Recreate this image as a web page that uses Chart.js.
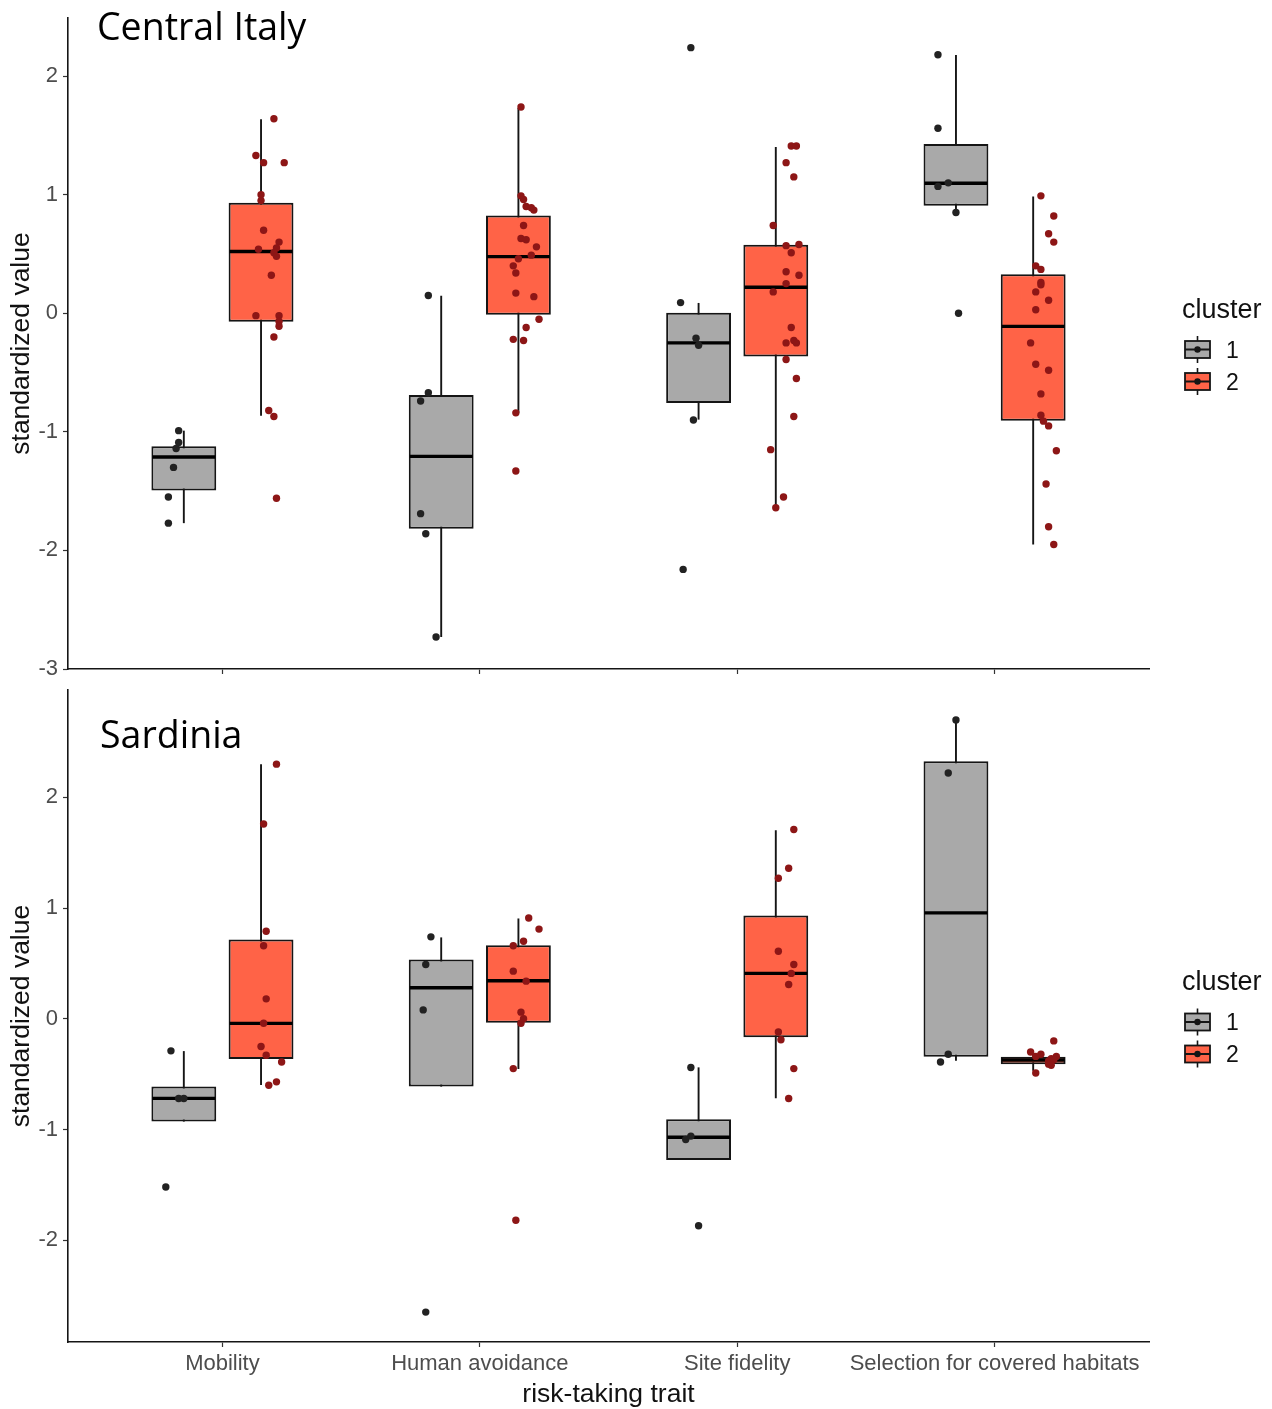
<!DOCTYPE html>
<html>
<head>
<meta charset="utf-8">
<script src="https://cdn.jsdelivr.net/npm/chart.js@4.4.1/dist/chart.umd.min.js"></script>
<style>
  html, body { margin: 0; padding: 0; background: #fff; }
  #page { position: relative; width: 1272px; height: 1409px; overflow: hidden; }
  canvas { position: absolute; left: 0; }
  #italy { top: 0; }
  #sardinia { top: 660px; }
</style>
</head>
<body>
<div id="page">
  <canvas id="italy" width="1272" height="700"></canvas>
  <canvas id="sardinia" width="1272" height="749"></canvas>
</div>
<script>
// ================= DATA =================
const traits = ["Mobility", "Human avoidance", "Site fidelity", "Selection for covered habitats"];
const clusters = ["1", "2"];

// box summaries per trait: [lower whisker, Q1, median, Q3, upper whisker]
const italyBox1 = [
  [-1.77, -1.495, -1.212, -1.122, -0.99],
  [-2.73, -1.818, -1.207, -0.690, 0.147],
  [-0.897, -0.756, -0.250, 0.005, 0.087],
  [0.85, 0.906, 1.097, 1.428, 2.178]
];
const italyBox2 = [
  [-0.864, -0.072, 0.521, 0.933, 1.636],
  [-0.84, -0.013, 0.478, 0.824, 1.732],
  [-1.644, -0.365, 0.219, 0.577, 1.402],
  [-1.95, -0.906, -0.111, 0.330, 0.984]
];
const sardiniaBox1 = [
  [-0.929, -0.929, -0.719, -0.613, -0.292],
  [-0.613, -0.613, 0.280, 0.536, 0.735],
  [-1.275, -1.275, -1.071, -0.908, -0.439],
  [-0.38, -0.343, 0.957, 2.326, 2.702]
];
const sardiniaBox2 = [
  [-0.598, -0.364, -0.042, 0.716, 2.299],
  [-0.454, -0.036, 0.343, 0.665, 0.906],
  [-0.719, -0.168, 0.410, 0.933, 1.704],
  [-0.47, -0.412, -0.373, -0.343, -0.304]
];

// individuals: [trait, jitter, standardized value]
const italyPts1 = [
  [1,-0.02,-0.99],[1,-0.02,-1.09],[1,-0.03,-1.14],[1,-0.04,-1.30],[1,-0.06,-1.55],[1,-0.06,-1.77],
  [2,-0.05,0.15],[2,-0.05,-0.67],[2,-0.08,-0.74],[2,-0.08,-1.69],[2,-0.06,-1.86],[2,-0.02,-2.73],
  [3,-0.03,2.24],[3,-0.07,0.09],[3,-0.01,-0.21],[3,0.00,-0.27],[3,-0.02,-0.90],[3,-0.06,-2.16],
  [4,-0.07,2.18],[4,-0.07,1.56],[4,-0.07,1.07],[4,-0.03,1.10],[4,0.00,0.85],[4,0.01,0.00]
];
const italyPts2 = [
  [1,0.05,1.64],[1,-0.02,1.33],[1,0.01,1.27],[1,0.09,1.27],[1,0.00,1.00],[1,0.00,0.95],[1,0.01,0.70],
  [1,-0.01,0.54],[1,0.07,0.60],[1,0.06,0.55],[1,0.05,0.51],[1,0.06,0.48],[1,0.04,0.32],[1,-0.02,-0.02],
  [1,0.07,-0.02],[1,0.07,-0.07],[1,0.07,-0.11],[1,0.05,-0.20],[1,0.03,-0.82],[1,0.05,-0.87],[1,0.06,-1.56],
  [2,0.01,1.74],[2,0.01,0.99],[2,0.02,0.96],[2,0.03,0.90],[2,0.05,0.89],[2,0.06,0.87],[2,0.02,0.74],
  [2,0.01,0.63],[2,0.03,0.62],[2,0.07,0.56],[2,0.05,0.49],[2,0.00,0.46],[2,-0.02,0.40],[2,-0.01,0.34],
  [2,-0.01,0.17],[2,0.06,0.14],[2,0.08,-0.05],[2,0.03,-0.12],[2,-0.02,-0.22],[2,0.02,-0.23],[2,-0.01,-0.84],[2,-0.01,-1.33],
  [3,0.06,1.41],[3,0.08,1.41],[3,0.04,1.27],[3,0.07,1.15],[3,-0.01,0.74],[3,0.04,0.57],[3,0.09,0.58],
  [3,0.06,0.51],[3,0.04,0.35],[3,0.09,0.32],[3,0.04,0.25],[3,-0.01,0.18],[3,0.06,-0.12],[3,0.04,-0.25],
  [3,0.07,-0.23],[3,0.08,-0.25],[3,0.04,-0.39],[3,0.08,-0.55],[3,0.07,-0.87],[3,-0.02,-1.15],[3,0.03,-1.55],[3,0.00,-1.64],
  [4,0.03,0.99],[4,0.08,0.82],[4,0.06,0.67],[4,0.08,0.60],[4,0.01,0.40],[4,0.03,0.37],[4,0.03,0.26],
  [4,0.03,0.24],[4,0.01,0.18],[4,0.06,0.11],[4,0.01,0.03],[4,-0.01,-0.25],[4,0.01,-0.43],[4,0.06,-0.48],
  [4,0.03,-0.68],[4,0.03,-0.86],[4,0.04,-0.91],[4,0.06,-0.95],[4,0.09,-1.16],[4,0.05,-1.44],[4,0.06,-1.80],[4,0.08,-1.95]
];
const sardiniaPts1 = [
  [1,-0.05,-0.29],[1,-0.02,-0.72],[1,0.00,-0.72],[1,-0.07,-1.52],
  [2,-0.04,0.74],[2,-0.06,0.49],[2,-0.07,0.08],[2,-0.06,-2.65],
  [3,-0.03,-0.44],[3,-0.05,-1.09],[3,-0.03,-1.06],[3,0.00,-1.87],
  [4,0.00,2.70],[4,-0.03,2.22],[4,-0.03,-0.32],[4,-0.06,-0.39]
];
const sardiniaPts2 = [
  [1,0.06,2.30],[1,0.01,1.76],[1,0.02,0.79],[1,0.01,0.66],[1,0.02,0.18],[1,0.01,-0.04],
  [1,0.00,-0.25],[1,0.02,-0.33],[1,0.08,-0.39],[1,0.03,-0.60],[1,0.06,-0.57],
  [2,0.04,0.91],[2,0.08,0.81],[2,0.02,0.70],[2,-0.02,0.66],[2,-0.02,0.43],[2,0.03,0.34],
  [2,0.01,0.06],[2,0.02,0.00],[2,0.01,-0.04],[2,-0.02,-0.45],[2,-0.01,-1.82],
  [3,0.07,1.71],[3,0.05,1.36],[3,0.01,1.27],[3,0.01,0.61],[3,0.07,0.49],[3,0.06,0.41],
  [3,0.05,0.31],[3,0.01,-0.12],[3,0.02,-0.19],[3,0.07,-0.45],[3,0.05,-0.72],
  [4,0.08,-0.20],[4,-0.01,-0.30],[4,0.03,-0.32],[4,0.01,-0.34],[4,0.09,-0.34],[4,0.07,-0.36],
  [4,0.08,-0.37],[4,0.06,-0.38],[4,0.07,-0.42],[4,0.06,-0.41],[4,0.01,-0.49]
];

// ================= STYLE =================
const DODGE = 0.6;        // share of a category used by the pair of boxes
const BOX_SHARE = 0.84;   // box width inside its half
const fills = ["#a9a9a9", "#ff6347"];
const dots = ["#222222", "#8d1616"];
const ink = "#151515";
const SANS = "'Liberation Sans', Arial, sans-serif";

// ================= HELPERS =================
function panelData(box1, box2, pts1, pts2){
    const boxes = [box1, box2], pts = [pts1, pts2];
    const scatter = pts.map((p, k) => ({
        type: "scatter", order: 0, label: clusters[k],
        data: p.map(([t, j, v]) => ({x: t + (k ? 1 : -1) * DODGE / 4 + j, y: v})),
        pointRadius: 3.7, pointHoverRadius: 3.7, pointBorderWidth: 0,
        pointBackgroundColor: dots[k], backgroundColor: dots[k]
    }));
    const bars = boxes.map((b, k) => ({
        type: "bar", order: 1, label: clusters[k], stats: b,
        data: b.map((s, i) => ({x: i + 1, y: [s[1], s[3]]})),
        backgroundColor: fills[k], borderColor: ink, borderWidth: 2, borderSkipped: false,
        categoryPercentage: DODGE, barPercentage: BOX_SHARE
    }));
    return {datasets: [...scatter, ...bars]};
}

// whiskers under the boxes, medians over the fill but under the points
const boxParts = {
    id: "boxParts",
    beforeDatasetsDraw(chart){
        const y = chart.scales.y, ctx = chart.ctx;
        ctx.save();
        ctx.strokeStyle = ink; ctx.lineWidth = 1.9;
        chart.data.datasets.forEach((ds, d) => {
            if(!ds.stats) return;
            chart.getDatasetMeta(d).data.forEach((bar, i) => {
                const s = ds.stats[i];
                ctx.beginPath();
                ctx.moveTo(bar.x, y.getPixelForValue(s[0]));
                ctx.lineTo(bar.x, y.getPixelForValue(s[4]));
                ctx.stroke();
            });
        });
        ctx.restore();
    },
    afterDatasetDraw(chart, args){
        const ds = chart.data.datasets[args.index];
        if(!ds.stats) return;
        const y = chart.scales.y, ctx = chart.ctx;
        ctx.save();
        ctx.strokeStyle = "#000"; ctx.lineWidth = 3.4;
        args.meta.data.forEach((bar, i) => {
            const ym = y.getPixelForValue(ds.stats[i][2]);
            ctx.beginPath();
            ctx.moveTo(bar.x - bar.width / 2 + 1, ym);
            ctx.lineTo(bar.x + bar.width / 2 - 1, ym);
            ctx.stroke();
        });
        ctx.restore();
    }
};

// "cluster" key to the right of the plot, centred on it
function drawKeyGlyph(ctx, cx, cy, fill){
    ctx.strokeStyle = ink; ctx.lineWidth = 1.6;
    ctx.beginPath(); ctx.moveTo(cx, cy - 13.5); ctx.lineTo(cx, cy + 13.5); ctx.stroke();
    ctx.fillStyle = fill;
    ctx.fillRect(cx - 12.5, cy - 8.5, 25, 17);
    ctx.lineWidth = 1.8;
    ctx.strokeRect(cx - 12.5, cy - 8.5, 25, 17);
    ctx.lineWidth = 2;
    ctx.beginPath(); ctx.moveTo(cx - 12.5, cy); ctx.lineTo(cx + 12.5, cy); ctx.stroke();
    ctx.fillStyle = ink;
    ctx.beginPath(); ctx.arc(cx, cy, 3.2, 0, Math.PI * 2); ctx.fill();
}
const clusterKey = {
    id: "clusterKey",
    afterDraw(chart){
        const {ctx, chartArea: a} = chart;
        const cy = (a.top + a.bottom) / 2;
        ctx.save();
        ctx.fillStyle = "#111";
        ctx.font = `27px ${SANS}`;
        ctx.textBaseline = "alphabetic";
        ctx.fillText("cluster", a.right + 33, cy - 26);
        clusters.forEach((c, k) => {
            const ky = cy + 6 + k * 32;
            drawKeyGlyph(ctx, a.right + 48.5, ky, fills[k]);
            ctx.fillStyle = "#111";
            ctx.font = `23px ${SANS}`;
            ctx.textBaseline = "middle";
            ctx.fillText(c, a.right + 77, ky + 2);
        });
        ctx.restore();
    }
};

// region name in the top-left corner of each panel
const panelHeading = {
    id: "panelHeading",
    afterDraw(chart, args, opts){
        const {ctx, chartArea: a} = chart;
        ctx.save();
        ctx.fillStyle = "#000";
        ctx.font = "37.5px 'Open Sans', sans-serif";
        ctx.textBaseline = "alphabetic";
        ctx.fillText(opts.text, a.left + opts.dx, a.top + opts.dy);
        ctx.restore();
    }
};

function makePanel(id, data, cfg){
    return new Chart(document.getElementById(id), {
        type: "bar",
        data,
        plugins: [boxParts, clusterKey, panelHeading],
        options: {
            responsive: false, animation: false, events: [],
            layout: {padding: {top: cfg.padTop, right: 123, left: 0, bottom: 0}},
            plugins: {
                legend: {display: false}, tooltip: {enabled: false},
                panelHeading: {text: cfg.heading, dx: cfg.headDx, dy: cfg.headDy}
            },
            scales: {
                x: {
                    type: "linear", min: 0.4, max: 4.6, offset: false,
                    afterFit: s => { s.height = cfg.xHeight; },
                    border: {display: true, color: ink, width: 1.6},
                    grid: {display: true, offset: false, drawOnChartArea: false, drawTicks: true, tickLength: 5, tickColor: "#333", tickWidth: 1.2},
                    ticks: {
                        display: cfg.xLabels, stepSize: 1, includeBounds: false, autoSkip: false, maxRotation: 0, padding: 4,
                        color: "#4d4d4d", font: {family: SANS, size: 22},
                        callback: v => traits[v - 1]
                    },
                    title: {display: cfg.xLabels, text: "risk-taking trait", color: "#111",
                            font: {family: SANS, size: 26.5, lineHeight: 1.1}, padding: {top: 0, bottom: 0}}
                },
                y: {
                    min: cfg.yMin, max: cfg.yMax,
                    afterFit: s => { s.width = 68; },
                    border: {display: true, color: ink, width: 1.6},
                    grid: {display: true, drawOnChartArea: false, drawTicks: true, tickLength: 5, tickColor: "#333", tickWidth: 1.2},
                    ticks: {stepSize: 1, includeBounds: false, padding: 5, color: "#4d4d4d",
                            font: {family: SANS, size: 22, lineHeight: 1}},
                    title: {display: true, text: "standardized value", color: "#111",
                            font: {family: SANS, size: 26.5}, padding: {top: 6, bottom: 0}}
                }
            }
        }
    });
}

// ================= PANELS =================
makePanel("italy", panelData(italyBox1, italyBox2, italyPts1, italyPts2), {
    padTop: 18, xHeight: 31, xLabels: false, yMin: -3, yMax: 2.49,
    heading: "Central Italy", headDx: 29, headDy: 22
});
makePanel("sardinia", panelData(sardiniaBox1, sardiniaBox2, sardiniaPts1, sardiniaPts2), {
    padTop: 30, xHeight: 67, xLabels: true, yMin: -2.92, yMax: 2.97,
    heading: "Sardinia", headDx: 32, headDy: 58
});
</script>
</body>
</html>
